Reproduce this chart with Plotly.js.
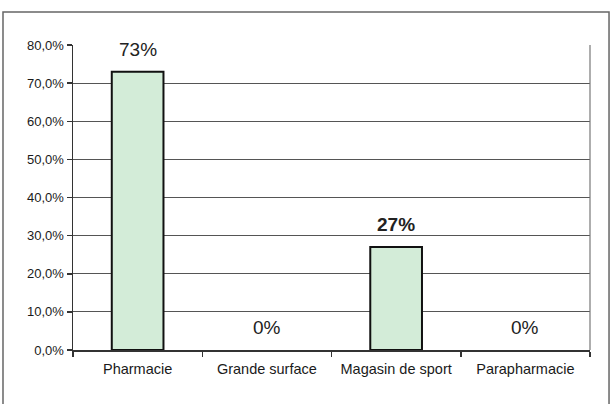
<!DOCTYPE html>
<html>
<head>
<meta charset="utf-8">
<script src="https://cdn.plot.ly/plotly-3.0.1.min.js"></script>
<style>html,body{margin:0;padding:0;background:#fff;}#chart{width:614px;height:404px;}</style>
</head>
<body>
<div id="chart"></div>
<script>
var categories = ["Pharmacie", "Grande surface", "Magasin de sport", "Parapharmacie"];
var values = [73, 0, 27, 0];
var labelTexts = ["73%", "0%", "27%", "0%"];
var labelBold = [false, false, true, false];
var yTickVals = [0, 10, 20, 30, 40, 50, 60, 70, 80];
var yTickText = ["0,0%", "10,0%", "20,0%", "30,0%", "40,0%", "50,0%", "60,0%", "70,0%", "80,0%"];

var trace = {
  type: "bar",
  x: categories,
  y: values,
  width: 0.4,
  marker: {
    color: "#d3ecd8",
    line: {color: "#111", width: values.map(function (v) { return v > 0 ? 2 : 0; })}
  },
  hoverinfo: "none"
};

var annotations = categories.map(function (c, i) {
  return {
    x: c, y: values[i], xref: "x", yref: "y",
    text: labelBold[i] ? "<b>" + labelTexts[i] + "</b>" : labelTexts[i],
    showarrow: false, yanchor: "bottom", yshift: 10,
    font: {family: "Liberation Sans, Arial, sans-serif", size: 19, color: "#222"}
  };
});

var layout = {
  width: 614, height: 404,
  margin: {l: 73, r: 24, t: 45, b: 54},
  paper_bgcolor: "#fff", plot_bgcolor: "#fff",
  showlegend: false,
  font: {family: "Liberation Sans, Arial, sans-serif", color: "#222"},
  xaxis: {
    type: "category",
    tickson: "boundaries",
    ticks: "outside", ticklen: 5, tickcolor: "#333", tickwidth: 1.5,
    showline: true, linecolor: "#333", linewidth: 1.5,
    showgrid: false, zeroline: false,
    tickfont: {size: 14.5, color: "#1a1a1a"},
    ticklabelstandoff: 5,
    fixedrange: true
  },
  yaxis: {
    range: [0, 80],
    tickmode: "array",
    tickvals: yTickVals,
    ticktext: yTickText,
    ticks: "outside", ticklen: 5, tickcolor: "#333", tickwidth: 1.5,
    showline: true, linecolor: "#333", linewidth: 1.5,
    showgrid: true, gridcolor: "#555", gridwidth: 1,
    zeroline: false,
    tickfont: {size: 13, color: "#1a1a1a"},
    fixedrange: true
  },
  annotations: annotations,
  shapes: [
    {type: "line", xref: "paper", yref: "paper", x0: 1, x1: 1, y0: 0, y1: 1,
     line: {color: "#777", width: 1.2}, layer: "above"},
    {type: "rect", xref: "paper", yref: "paper", x0: -0.1354, x1: 1.0368, y0: -0.2, y1: 1.108,
     line: {color: "#666", width: 1.5}, layer: "below"}
  ]
};

Plotly.newPlot("chart", [trace], layout, {displayModeBar: false, staticPlot: true});
</script>
</body>
</html>
